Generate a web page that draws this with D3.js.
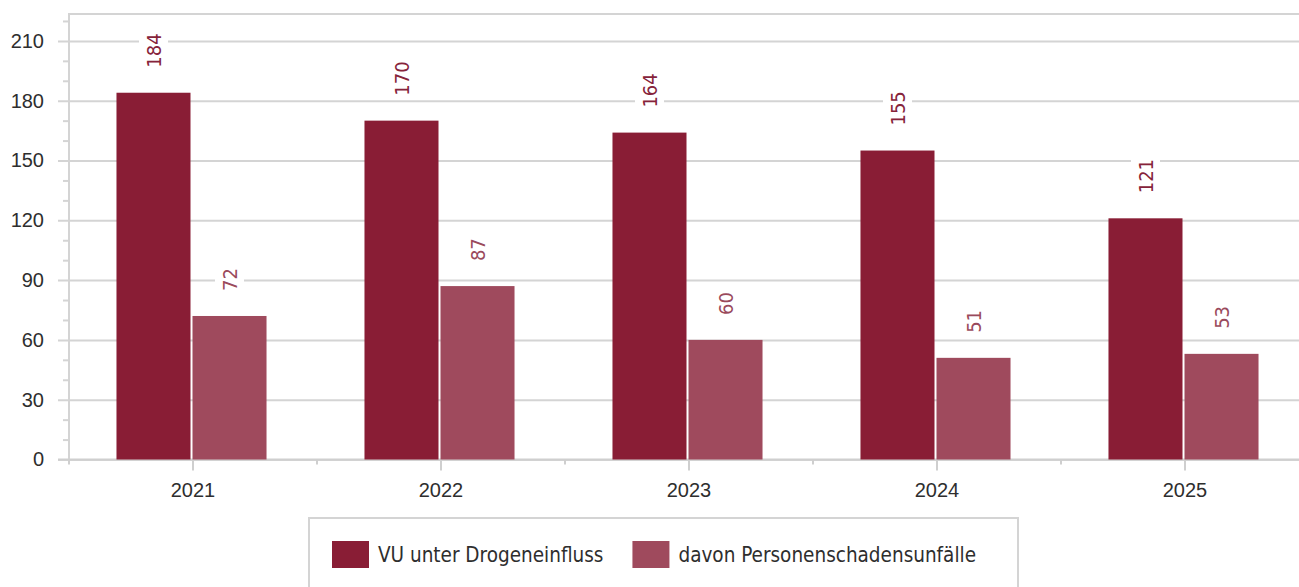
<!DOCTYPE html>
<html>
	<head>
		<meta http-equiv="Content-Type" content="text/html;charset=utf-8"/>
		<title>VU unter Drogeneinfluss</title>
		<script src="https://d3js.org/d3.v7.min.js"></script>
		<style type="text/css">
			body { margin: 0; background: #fff; }
			svg { display: block; font-family: "DejaVu Sans Condensed", "DejaVu Sans", sans-serif; }
			.grid line { stroke: #d4d4d4; stroke-width: 2; }
			.grid path { display: none; }
			.grid text { fill: #2e2e2e; font-size: 20px; }
			.minor line { stroke: #d4d4d4; stroke-width: 2; }
			.minor path { display: none; }
			.xaxis path { display: none; }
			.xaxis line { stroke: #cfcfcf; stroke-width: 2; }
			.xaxis text { fill: #2e2e2e; font-size: 20px; }
			.frame { stroke: #d4d4d4; stroke-width: 2; fill: none; }
			.label { font-size: 20px; }
			.legend text { font-size: 20.5px; fill: #2e2e2e; }
		</style>
	</head>
	<body>
		<script type="text/javascript">

			//Chart data
			var categories = ["2021", "2022", "2023", "2024", "2025"];
			var vuDrogen = [184, 170, 164, 155, 121];
			var personenschaden = [72, 87, 60, 51, 53];
			var seriesNames = ["VU unter Drogeneinfluss", "davon Personenschadensunfälle"];
			var yTicks = [0, 30, 60, 90, 120, 150, 180, 210];
			var yMinorTicks = [10, 20, 40, 50, 70, 80, 100, 110, 130, 140, 160, 170, 190, 200, 220];

			var colors = ["#891d35", "#9f4a5d"];
			var labelColors = ["#86233a", "#9a4a5c"];

			var w = 1299,
				h = 587,
				plotLeft = 69,
				plotTop = 14,
				plotBottom = 459.5;

			var svg = d3.select("body").append("svg")
						.attr("width", w)
						.attr("height", h);

			//Scales
			var x = d3.scaleBand()
						.domain(categories)
						.range([plotLeft, plotLeft + 5 * 248])
						.paddingInner(0.395)
						.paddingOuter(0.1975);

			var y = d3.scaleLinear()
						.domain([0, 223.5])
						.range([plotBottom, plotTop]);

			//Gridlines + y labels
			svg.append("g")
				.attr("class", "grid")
				.attr("transform", "translate(58,0)")
				.call(d3.axisLeft(y)
					.tickValues(yTicks)
					.tickSizeInner(-(w - 58))
					.tickSizeOuter(0)
					.tickPadding(14));

			//Minor ticks
			svg.append("g")
				.attr("class", "minor")
				.attr("transform", "translate(" + plotLeft + ",0)")
				.call(d3.axisLeft(y)
					.tickValues(yMinorTicks)
					.tickSize(6)
					.tickFormat(""));

			//Frame: top and left border
			svg.append("path")
				.attr("class", "frame")
				.attr("d", "M" + w + "," + plotTop + "H" + plotLeft + "V" + plotBottom);

			//X axis
			svg.append("g")
				.attr("class", "xaxis")
				.attr("transform", "translate(0," + plotBottom + ")")
				.call(d3.axisBottom(x)
					.tickSizeInner(11)
					.tickSizeOuter(0)
					.tickPadding(12));

			//short ticks on category boundaries
			svg.append("g")
				.attr("class", "xaxis")
				.selectAll("line")
				.data(d3.range(categories.length + 1))
				.enter()
				.append("line")
				.attr("x1", function(i) { return x.range()[0] + i * x.step(); })
				.attr("x2", function(i) { return x.range()[0] + i * x.step(); })
				.attr("y1", plotBottom)
				.attr("y2", plotBottom + 5);

			//baseline
			svg.append("line")
				.attr("x1", 58)
				.attr("x2", w)
				.attr("y1", plotBottom)
				.attr("y2", plotBottom)
				.attr("stroke", "#cfcfcf")
				.attr("stroke-width", 2);

			//Bars
			var rows = [];
			categories.forEach(function(c, i) {
				rows.push({ cat: c, s: 0, value: vuDrogen[i] });
				rows.push({ cat: c, s: 1, value: personenschaden[i] });
			});

			var half = x.bandwidth() / 2;
			function barX(d) {
				return x(d.cat) - 1.5 + d.s * (half + 1);
			}

			svg.selectAll("rect.bar")
				.data(rows)
				.enter()
				.append("rect")
				.attr("class", "bar")
				.attr("x", barX)
				.attr("width", half - 1)
				.attr("y", function(d) { return y(d.value); })
				.attr("height", function(d) { return plotBottom - y(d.value); })
				.attr("fill", function(d) { return colors[d.s]; });

			//Value labels
			var labels = svg.selectAll("g.label")
				.data(rows)
				.enter()
				.append("g")
				.attr("class", "label")
				.attr("transform", function(d) {
					return "translate(" + (barX(d) + (half - 1) / 2) + "," + (y(d.value) - 25) + ")";
				});

			labels.append("rect").attr("fill", "#fff");

			labels.append("text")
				.attr("transform", "rotate(-90)")
				.attr("dy", "0.36em")
				.attr("fill", function(d) { return labelColors[d.s]; })
				.text(function(d) { return d.value; })
				.each(function(d) {
					var len = this.getComputedTextLength();
					d3.select(this.parentNode).select("rect")
						.attr("x", -14.5)
						.attr("width", 29)
						.attr("y", -len - 4)
						.attr("height", len + 8);
				});

			//Legend
			var legend = svg.append("g").attr("class", "legend");

			legend.append("rect")
				.attr("x", 309)
				.attr("y", 518)
				.attr("width", 1018 - 309)
				.attr("height", 100)
				.attr("fill", "#fff")
				.attr("stroke", "#d4d4d4")
				.attr("stroke-width", 2);

			var lx = 332;
			seriesNames.forEach(function(name, i) {
				legend.append("rect")
					.attr("x", lx)
					.attr("y", 541)
					.attr("width", 37)
					.attr("height", 27)
					.attr("fill", colors[i]);
				var t = legend.append("text")
					.attr("x", lx + 46)
					.attr("y", 554.5)
					.attr("dy", "0.35em")
					.text(name);
				lx = lx + 46 + t.node().getComputedTextLength() + 29;
			});

		</script>
	</body>
</html>
